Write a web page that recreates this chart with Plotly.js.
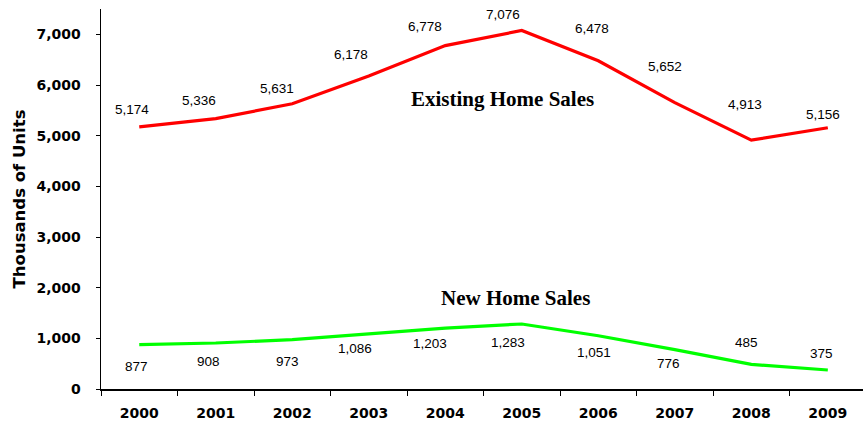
<!DOCTYPE html>
<html>
<head>
<meta charset="utf-8">
<script src="https://cdn.plot.ly/plotly-3.0.1.min.js"></script>
<style>html,body{margin:0;padding:0;overflow:hidden;background:#fff;}</style>
</head>
<body>
<div id="chart" style="width:863px;height:426px;"></div>
<script>
const years = ['2000','2001','2002','2003','2004','2005','2006','2007','2008','2009'];
const existingSales = [5174,5336,5631,6178,6778,7076,6478,5652,4913,5156];
const newSales = [877,908,973,1086,1203,1283,1051,776,485,375];
// label offsets (pixels)
const existingLabelDx = [-7,-17,-15,-18,-20,-19,-6,-10,-6,-5];
const existingLabelDy = [17,18,15,21,19,16,32,36,36,13];
const newLabelDx = [-3,-7,-5,-14,-15,-14,-4,-6,-5,-6];
const newLabelDy = [-22,-19,-22,-15,-15,-19,-17,-14,22,17];
const fmt = v => v.toLocaleString('en-US');

const labelFont = {family: 'Liberation Sans Narrow, Arial Narrow, Liberation Sans, Arial, sans-serif', size: 13.5, color: '#000'};
const tickFont = {family: 'DejaVu Sans, Verdana, sans-serif', size: 14, color: '#000', weight: 'bold'};

const traces = [
  {x: years, y: existingSales, type: 'scatter', mode: 'lines',
    line: {color: '#ff0000', width: 3.2}, hoverinfo: 'skip'},
  {x: years, y: newSales, type: 'scatter', mode: 'lines',
    line: {color: '#00ff00', width: 3.2}, hoverinfo: 'skip'}
];

const annotations = [];
years.forEach((yr, i) => {
  annotations.push({x: i, y: existingSales[i], xref: 'x', yref: 'y', text: fmt(existingSales[i]),
    showarrow: false, xshift: existingLabelDx[i], yshift: existingLabelDy[i], font: labelFont});
  annotations.push({x: i, y: newSales[i], xref: 'x', yref: 'y', text: fmt(newSales[i]),
    showarrow: false, xshift: newLabelDx[i], yshift: newLabelDy[i], font: labelFont});
});
annotations.push({x: 4.745, y: 5719, xref: 'x', yref: 'y', text: 'Existing Home Sales', showarrow: false,
  font: {family: 'Liberation Serif, Times New Roman, serif', size: 21, color: '#000', weight: 'bold'}});
annotations.push({x: 4.915, y: 1794, xref: 'x', yref: 'y', text: 'New Home Sales', showarrow: false,
  font: {family: 'Liberation Serif, Times New Roman, serif', size: 21, color: '#000', weight: 'bold'}});

const layout = {
  width: 863, height: 426,
  margin: {l: 101, r: 0, t: 9, b: 37},
  paper_bgcolor: '#fff', plot_bgcolor: '#fff',
  showlegend: false,
  xaxis: {
    type: 'category', range: [-0.5, 9.46],
    tickson: 'boundaries', ticks: 'outside', ticklen: 5, tickcolor: '#000', tickwidth: 1,
    showline: true, linecolor: '#000', linewidth: 1.5,
    showgrid: false, zeroline: false, ticklabelstandoff: 11,
    tickfont: tickFont
  },
  yaxis: {
    range: [0, 7500], tickvals: [0,1000,2000,3000,4000,5000,6000,7000],
    tickformat: ',', ticks: 'outside', ticklen: 4, tickcolor: '#000', tickwidth: 1,
    showline: true, linecolor: '#000', linewidth: 1.5,
    showgrid: false, zeroline: false, ticklabelstandoff: 12,
    tickfont: tickFont,
    title: {text: 'Thousands of Units', standoff: 6,
      font: {family: 'DejaVu Sans, Verdana, sans-serif', size: 16.5, color: '#000', weight: 'bold'}}
  },
  annotations: annotations
};

Plotly.newPlot('chart', traces, layout, {staticPlot: true, displayModeBar: false});
</script>
</body>
</html>
